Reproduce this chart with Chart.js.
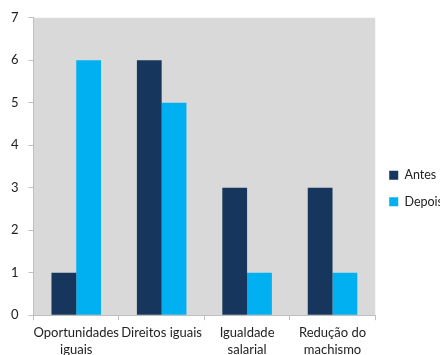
<!DOCTYPE html>
<html><head><meta charset="utf-8">
<script src="https://cdn.jsdelivr.net/npm/chart.js@4"></script>
<style>html,body{margin:0;padding:0;background:#fff}#w{width:440px;height:355px}</style>
</head><body><div id="w"><canvas id="c" width="440" height="355"></canvas></div>
<script>
const categories = [["Oportunidades","iguais"],["Direitos iguais"],["Igualdade","salarial"],["Redução do","machismo"]];
const antes = [1, 6, 3, 3];
const depois = [6, 5, 1, 1];
const yTicks = [0,1,2,3,4,5,6,7];

const bgPlugin = {
  id: 'bg',
  beforeDraw(chart){
    const {ctx, chartArea:a} = chart;
    ctx.save(); ctx.fillStyle = '#d9d9d9';
    ctx.fillRect(a.left, a.top, a.right-a.left, a.bottom-a.top);
    ctx.restore();
  }
};
const fam = "Lato, 'Open Sans', sans-serif";
new Chart(document.getElementById('c'), {
  type: 'bar',
  data: {
    labels: categories,
    datasets: [
      {label: 'Antes', data: antes, backgroundColor: '#17365d'},
      {label: 'Depois', data: depois, backgroundColor: '#00b0f0'}
    ]
  },
  options: {
    responsive: false, animation: false,
    layout: {padding: {top: 15, left: 1, right: -13, bottom: -7}},
    datasets: {bar: {categoryPercentage: 0.58, barPercentage: 1}},
    plugins: {
      legend: {position: 'right', labels: {boxWidth: 9, boxHeight: 9, padding: 14, color: '#222', font: {family: fam, size: 12.5, lineHeight: 0.7}}},
      tooltip: {enabled: false}
    },
    scales: {
      x: {
        grid: {offset: true, drawOnChartArea: false, tickLength: 5, color: '#bfbfbf'},
        border: {color: '#bfbfbf'},
        ticks: {color: '#222', font: {family: fam, size: 13, lineHeight: 1.3}, maxRotation: 0, autoSkip: false, padding: 4}
      },
      y: {
        min: 0, max: 7,
        afterBuildTicks(s){ s.ticks = yTicks.map(v => ({value: v})); },
        grid: {drawOnChartArea: false, tickLength: 5, color: '#bfbfbf'},
        border: {color: '#bfbfbf'},
        ticks: {color: '#222', font: {family: fam, size: 13}, padding: 10}
      }
    }
  },
  plugins: [bgPlugin]
});
</script></body></html>
